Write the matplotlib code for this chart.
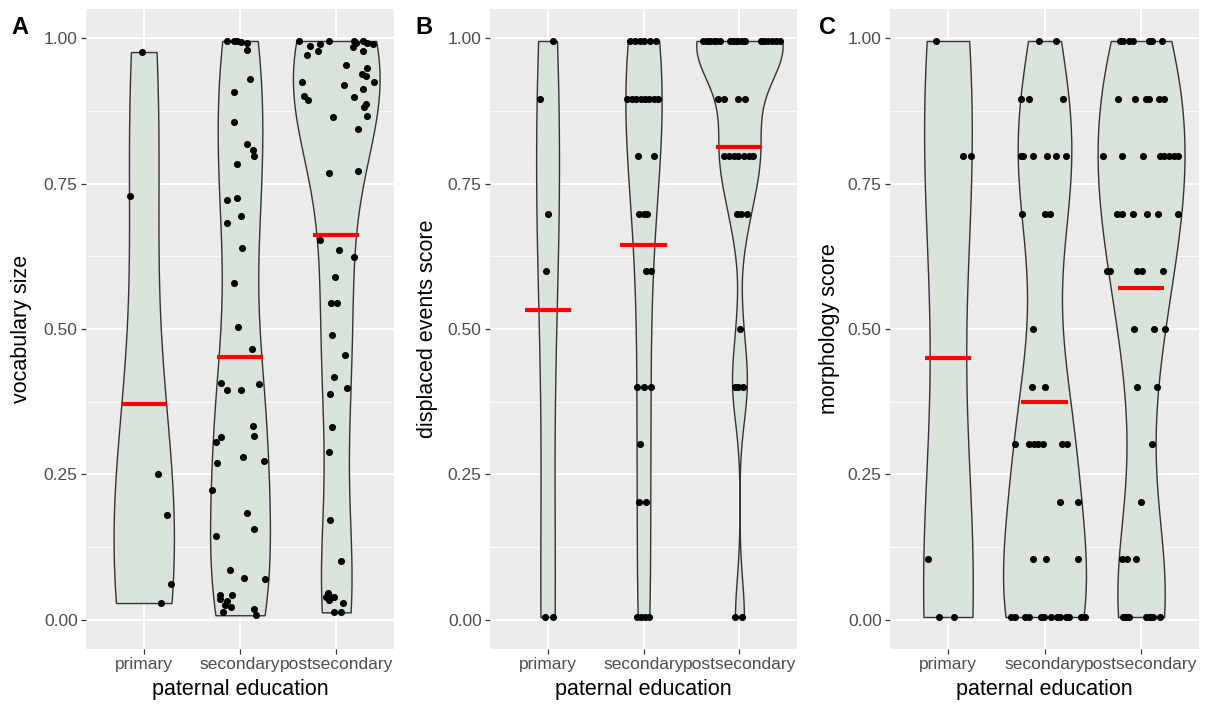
import numpy as np
import matplotlib
matplotlib.use("Agg")
import matplotlib.pyplot as plt

plt.rcParams['font.family'] = ['Liberation Sans', 'DejaVu Sans']

# ===============================
# DATA
# ===============================
groups = ["primary", "secondary", "postsecondary"]

# panel A: vocabulary size
vocab_primary = [0.976, 0.729, 0.250, 0.180, 0.062, 0.029]
vocab_primary_jit = [-0.02, -0.14, 0.15, 0.24, 0.28, 0.18]

vocab_secondary = [0.995, 0.995, 0.995, 0.993, 0.992, 0.979, 0.930, 0.907, 0.856, 0.818,
                   0.808, 0.797, 0.783, 0.721, 0.725, 0.694, 0.682, 0.640, 0.579, 0.504,
                   0.465, 0.407, 0.395, 0.395, 0.405, 0.334, 0.316, 0.315, 0.306, 0.280,
                   0.269, 0.273, 0.223, 0.184, 0.156, 0.144, 0.085, 0.072, 0.070, 0.042,
                   0.042, 0.036, 0.033, 0.023, 0.013, 0.019, 0.008, 0.025]
vocab_secondary_jit = [-0.14, -0.06, -0.03, 0.01, 0.07, 0.07, 0.10, -0.06, -0.06, 0.07,
                       0.13, 0.15, -0.03, -0.14, -0.03, 0.01, -0.14, 0.02, -0.06, -0.02,
                       0.12, -0.20, -0.14, 0.01, 0.20, 0.14, 0.15, -0.20, -0.25, 0.03,
                       -0.24, 0.25, -0.29, 0.07, 0.15, -0.25, -0.10, 0.04, 0.26, -0.21,
                       -0.08, -0.21, -0.13, -0.09, -0.18, 0.15, 0.17, -0.16]

vocab_post = [0.995, 0.986, 0.990, 0.978, 0.995, 0.971, 0.995, 0.992, 0.985, 0.995,
              0.991, 0.989, 0.978, 0.954, 0.948, 0.925, 0.939, 0.934, 0.924, 0.919,
              0.912, 0.900, 0.893, 0.898, 0.887, 0.881, 0.866, 0.864, 0.844, 0.768,
              0.772, 0.653, 0.636, 0.623, 0.589, 0.545, 0.545, 0.490, 0.456, 0.418,
              0.399, 0.388, 0.331, 0.288, 0.172, 0.102, 0.046, 0.039, 0.034, 0.039,
              0.029, 0.014, 0.013, 0.040]
vocab_post_jit = [-0.39, -0.27, -0.17, -0.19, -0.08, -0.30, 0.18, 0.21, 0.17, 0.28,
                  0.32, 0.38, 0.28, 0.10, 0.32, -0.36, 0.27, 0.31, 0.39, 0.08,
                  0.28, -0.33, -0.29, 0.18, 0.31, 0.29, 0.32, -0.03, 0.23, -0.08,
                  0.23, -0.17, 0.03, 0.18, -0.01, -0.05, 0.01, -0.04, 0.09, -0.02,
                  0.11, -0.06, -0.04, -0.08, -0.06, 0.05, -0.09, -0.11, -0.08, -0.02,
                  0.07, -0.02, 0.05, -0.06]

# panel B: displaced events score
disp_primary = [0.995, 0.896, 0.698, 0.599, 0.005, 0.005]
disp_primary_jit = [0.06, -0.08, 0.00, -0.02, -0.03, 0.06]

disp_secondary = [0.995, 0.995, 0.995, 0.995, 0.995, 0.995,
                  0.896, 0.896, 0.896, 0.896, 0.896, 0.896, 0.896, 0.896,
                  0.797, 0.797, 0.698, 0.698, 0.698, 0.599, 0.599,
                  0.401, 0.401, 0.401, 0.302, 0.203, 0.203,
                  0.005, 0.005, 0.005, 0.005]
disp_secondary_jit = [-0.14, -0.09, -0.04, 0.01, 0.07, 0.13,
                      -0.17, -0.12, -0.08, -0.03, 0.02, 0.06, 0.11, 0.15,
                      -0.06, 0.11, -0.05, 0.00, 0.04, 0.03, 0.08,
                      -0.07, 0.01, 0.08, -0.04, -0.05, 0.03,
                      -0.07, -0.03, 0.02, 0.06]

disp_post = [0.995, 0.995, 0.995, 0.995, 0.995, 0.995, 0.995, 0.995, 0.995,
             0.995, 0.995, 0.995, 0.995, 0.995, 0.995, 0.995, 0.995, 0.995,
             0.896, 0.896, 0.896, 0.896,
             0.797, 0.797, 0.797, 0.797, 0.797, 0.797, 0.797,
             0.698, 0.698, 0.698, 0.500, 0.401, 0.401, 0.401, 0.005, 0.005]
disp_post_jit = [-0.38, -0.34, -0.31, -0.27, -0.24, -0.20, -0.10, -0.07, -0.04,
                 -0.01, 0.03, 0.06, 0.22, 0.26, 0.30, 0.34, 0.38, 0.42,
                 -0.22, -0.16, -0.01, 0.06,
                 -0.16, -0.11, -0.06, -0.01, 0.05, 0.10, 0.14,
                 -0.03, 0.02, 0.08, 0.01, -0.05, -0.01, 0.04, -0.05, 0.03]

# panel C: morphology score
morph_primary = [0.995, 0.797, 0.797, 0.104, 0.005, 0.005]
morph_primary_jit = [-0.12, 0.16, 0.24, -0.21, -0.09, 0.06]

morph_secondary = [0.995, 0.995, 0.896, 0.896, 0.896,
                   0.797, 0.797, 0.797, 0.797, 0.797, 0.797,
                   0.698, 0.698, 0.698, 0.500, 0.401, 0.401,
                   0.302, 0.302, 0.302, 0.302, 0.302, 0.302, 0.302,
                   0.203, 0.203, 0.104, 0.104, 0.104,
                   0.005, 0.005, 0.005, 0.005, 0.005, 0.005, 0.005,
                   0.005, 0.005, 0.005, 0.005, 0.005, 0.005]
morph_secondary_jit = [-0.06, 0.12, -0.24, -0.16, 0.19,
                       -0.24, -0.22, -0.12, 0.03, 0.12, 0.22,
                       -0.23, 0.00, 0.06, -0.12, -0.13, 0.01,
                       -0.31, -0.16, -0.11, -0.07, -0.02, 0.18, 0.23,
                       0.16, 0.35, -0.12, 0.02, 0.35,
                       -0.35, -0.31, -0.20, -0.16, -0.04, -0.01, 0.07,
                       0.13, 0.16, 0.22, 0.25, 0.38, 0.42]

morph_post = [0.995, 0.995, 0.995, 0.995, 0.995, 0.995, 0.995,
              0.896, 0.896, 0.896, 0.896, 0.896, 0.896,
              0.797, 0.797, 0.797, 0.797, 0.797, 0.797, 0.797, 0.797,
              0.698, 0.698, 0.698, 0.698, 0.698, 0.698,
              0.599, 0.599, 0.599, 0.599, 0.599,
              0.500, 0.500, 0.500, 0.401, 0.401, 0.302, 0.203,
              0.104, 0.104, 0.104,
              0.005, 0.005, 0.005, 0.005, 0.005, 0.005, 0.005, 0.005, 0.005]
morph_post_jit = [-0.22, -0.19, -0.12, -0.08, 0.08, 0.11, 0.22,
                  -0.24, -0.06, 0.05, 0.08, 0.19, 0.24,
                  -0.39, -0.20, 0.02, 0.20, 0.24, 0.29, 0.34, 0.38,
                  -0.25, -0.20, -0.08, 0.06, 0.18, 0.38,
                  -0.35, -0.32, -0.04, 0.01, 0.23,
                  -0.07, 0.13, 0.25, -0.04, 0.17, 0.11, 0.00,
                  -0.20, -0.15, -0.05,
                  -0.19, -0.17, -0.15, -0.12, 0.05, 0.08, 0.10, 0.12, 0.20]

panels = [
    ("A", "vocabulary size", [(vocab_primary, vocab_primary_jit),
                              (vocab_secondary, vocab_secondary_jit),
                              (vocab_post, vocab_post_jit)]),
    ("B", "displaced events score", [(disp_primary, disp_primary_jit),
                                     (disp_secondary, disp_secondary_jit),
                                     (disp_post, disp_post_jit)]),
    ("C", "morphology score", [(morph_primary, morph_primary_jit),
                               (morph_secondary, morph_secondary_jit),
                               (morph_post, morph_post_jit)]),
]


# ===============================
# helpers
# ===============================
def density(vals, n=512):
    # gaussian kde, bw.nrd0, trimmed to data range (like geom_violin)
    v = np.asarray(vals)
    sd = v.std(ddof=1)
    iqr = np.subtract(*np.percentile(v, [75, 25]))
    bw = 0.9 * min(sd, iqr / 1.34) * len(v) ** -0.2
    grid = np.linspace(v.min(), v.max(), n)
    d = np.exp(-0.5 * ((grid[:, None] - v[None, :]) / bw) ** 2).sum(axis=1)
    d = d / (len(v) * bw * np.sqrt(2 * np.pi))
    return grid, d


# ===============================
# FIGURE
# ===============================
fig = plt.figure(figsize=(12.12, 7.04), dpi=100)

lefts = [86, 490, 890]
widths = [308, 307, 309]
ylab_x = [22, 428, 830]
tag_x = [20, 424, 827]

for k, (tag, ylabel, data) in enumerate(panels):
    ax = fig.add_axes([lefts[k] / 1212, 1 - 649 / 704, widths[k] / 1212, 640 / 704])
    ax.set_facecolor('#EBEBEB')
    for s in ax.spines.values():
        s.set_visible(False)

    dens = [density(vals) for vals, _ in data]
    dmax = max(d.max() for _, d in dens)

    for i, ((vals, jit), (grid, d)) in enumerate(zip(data, dens)):
        pos = i + 1
        hw = 0.45 * d / dmax
        ax.fill_betweenx(grid, pos - hw, pos + hw, facecolor='#D9E3D9',
                         edgecolor='#333333', linewidth=1.0, zorder=2)
        ax.scatter(pos + np.array(jit), vals, s=26, color='black',
                   linewidths=0, zorder=3)
        ax.hlines(np.mean(vals), pos - 0.24, pos + 0.24, color='red',
                  linewidth=3, zorder=4)

    ax.set_xlim(0.4, 3.6)
    ax.set_ylim(-0.05, 1.05)
    ax.set_xticks([1, 2, 3])
    ax.set_xticklabels(groups)
    ax.set_yticks([0, 0.25, 0.5, 0.75, 1.0])
    ax.set_yticklabels(['0.00', '0.25', '0.50', '0.75', '1.00'])
    ax.set_yticks([0.125, 0.375, 0.625, 0.875], minor=True)
    ax.grid(which='major', color='white', linewidth=1.3, zorder=0)
    ax.grid(which='minor', axis='y', color='white', linewidth=0.6, zorder=0)
    ax.set_axisbelow(True)
    ax.tick_params(which='major', length=3.5, width=0.9, color='#333333',
                   labelcolor='#4D4D4D', labelsize=12.5, pad=2.5)
    ax.tick_params(which='minor', length=0)

    cx = (lefts[k] + widths[k] / 2) / 1212
    fig.text(cx, 1 - 690 / 704, 'paternal education', ha='center', va='center',
             fontsize=15.5)
    fig.text(ylab_x[k] / 1212, 1 - 329 / 704, ylabel, rotation=90,
             ha='center', va='center', fontsize=15.5)
    fig.text(tag_x[k] / 1212, 1 - 27 / 704, tag, ha='center', va='center',
             fontsize=17, fontweight='bold')

fig.savefig("out.png", dpi=100)
